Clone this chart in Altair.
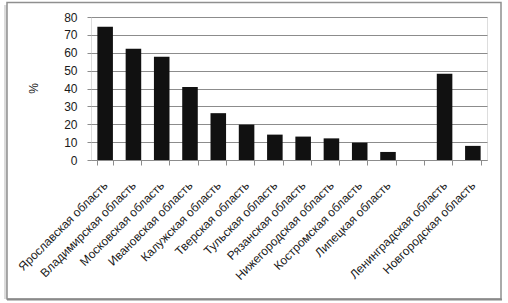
import altair as alt
import pandas as pd

regions = [
    "Ярославская область", "Владимирская область", "Московская область",
    "Ивановская область", "Калужская область", "Тверская область",
    "Тульская область", "Рязанская область", "Нижегородская область",
    "Костромская область", "Липецкая область", " ",
    "Ленинградская область", "Новгородская область",
]
values = [74.5, 62.2, 57.7, 40.9, 26.2, 19.8, 14.2, 13.1, 12.1, 9.7, 4.5, None, 48.2, 7.9]
y_ticks = [0, 10, 20, 30, 40, 50, 60, 70, 80]

df = pd.DataFrame({"region": regions, "value": values})

FONT = "Liberation Sans"
W, H = 396, 143
PL, PT = 91, 17

bars = alt.Chart(df).mark_bar(color="#111111").encode(
    x=alt.X(
        "region:N",
        sort=regions,
        scale=alt.Scale(paddingInner=0.45, paddingOuter=0.225),
        axis=alt.Axis(
            title=None, labelAngle=-45, labelAlign="right", labelBaseline="middle",
            labelPadding=18, tickBand="extent", tickSize=5, tickColor="#8c8c8c",
            domainColor="#8c8c8c", labelFont=FONT, labelFontSize=12,
            labelColor="#1a1a1a", grid=False, labelOverlap=False,
        ),
    ),
    y=alt.Y(
        "value:Q",
        scale=alt.Scale(domain=[0, 80], nice=False),
        axis=alt.Axis(
            title="%", values=y_ticks, domain=False, tickSize=4, tickColor="#8c8c8c",
            gridColor="#8c8c8c", gridWidth=1, labelPadding=10, labelFont=FONT,
            labelFontSize=12, labelColor="#1a1a1a", titleFont=FONT,
            titleFontSize=12, titleFontWeight="normal", titleColor="#1a1a1a",
            titleX=-58, titleY=71, titleAlign="center", titleBaseline="middle",
        ),
    ),
)

one = alt.Data(values=[{"k": 1}])

# frame around the whole chart
shadow = alt.Chart(one).mark_rect(color="#dcdcdc").encode(
    x=alt.value(4 - PL), x2=alt.value(7 - PL), y=alt.value(5 - PT), y2=alt.value(299 - PT)
)
frame = alt.Chart(one).mark_rect(fill=None, stroke="#8f8f8f", strokeWidth=1.5).encode(
    x=alt.value(7 - PL), x2=alt.value(501 - PL), y=alt.value(2.5 - PT), y2=alt.value(299 - PT)
)
bottom = alt.Chart(one).mark_rule(color="#8a8a8a", strokeWidth=2).encode(
    x=alt.value(7 - PL), x2=alt.value(502 - PL), y=alt.value(299.5 - PT)
)

chart = alt.layer(shadow, frame, bottom, bars).properties(
    width=W, height=H,
    autosize=alt.AutoSizeParams(type="none"),
    padding={"left": PL, "top": PT, "right": 508 - PL - W, "bottom": 303 - PT - H},
).configure_view(stroke=None).configure(background="white")

chart.save("out.html", embed_options={"renderer": "svg", "actions": False})
